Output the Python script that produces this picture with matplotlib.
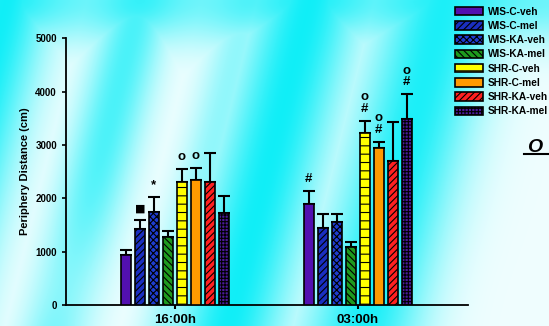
import numpy as np
import matplotlib.pyplot as plt

groups = ["16:00h", "03:00h"]
series = ["WIS-C-veh", "WIS-C-mel", "WIS-KA-veh", "WIS-KA-mel",
          "SHR-C-veh", "SHR-C-mel", "SHR-KA-veh", "SHR-KA-mel"]
means_16 = [940, 1420, 1740, 1270, 2310, 2350, 2300, 1720]
means_03 = [1900, 1440, 1560, 1080, 3230, 2950, 2700, 3480]
err_16 = [100, 180, 290, 110, 240, 220, 550, 330]
err_03 = [240, 270, 150, 95, 220, 110, 730, 470]
marks_16 = ["", "\u25a0", "*", "", "o", "o", "", ""]
marks_03 = ["#", "", "", "", "o\n#", "o\n#", "", "o\n#"]

colors = ["#5210b0", "#1a2fc0", "#1f3dd0", "#1e9a1e",
          "#ffff00", "#ff9a00", "#ff2020", "#4a1a9a"]
hatches = [None, "/////", "xxxxx", "\\\\\\\\\\", "--", None, "/////", "+++++"]

plt.rcParams["font.family"] = ["Liberation Sans", "DejaVu Sans"]
plt.rcParams["hatch.linewidth"] = 0.8
fig = plt.figure(figsize=(5.49, 3.26), dpi=100)

# soft cyan streaky background
bg = fig.add_axes([0, 0, 1, 1], zorder=-10)
xx, yy = np.meshgrid(np.linspace(0, 549, 549), np.linspace(0, 326, 326))
streaks = [(5, 50, 0.95), (140, 35, 0.7), (310, 55, 0.95), (445, 60, 0.9), (250, 30, 0.4)]
w = np.zeros_like(xx)
xs = xx + yy * 0.25
for cx, s, a in streaks:
    w = np.maximum(w, a * np.exp(-((xs - cx) / s) ** 2))
w = np.maximum(w, 0.9 * np.exp(-(yy / 45) ** 2) * (0.6 + 0.4 * w))
w = w * (1 - 0.7 * np.exp(-(((xx - 545) / 70) ** 2 + ((yy - 320) / 80) ** 2)))
w = w * (1 - 0.4 * np.exp(-(((xx - 80) / 60) ** 2 + ((yy - 300) / 90) ** 2)))
w = np.clip(0.06 + 0.92 * w, 0, 1)
img = np.ones(xx.shape + (3,))
img[..., 0] = 1 - w
img[..., 1] = 1 - 0.07 * w
img[..., 2] = 1 - 0.03 * w
bg.imshow(img, aspect="auto", extent=[0, 1, 0, 1], origin="upper")
bg.axis("off")

ax = fig.add_axes([0.120, 0.064, 0.732, 0.819])
ax.patch.set_alpha(0)
width = 0.055
step = 0.0765
x = np.arange(len(groups))
for i, name in enumerate(series):
    pos = x + (i - 3.5) * step
    vals = [means_16[i], means_03[i]]
    errs = [err_16[i], err_03[i]]
    ax.bar(pos, vals, width, color=colors[i], hatch=hatches[i], edgecolor="black",
           linewidth=1.2, label=name, zorder=3)
    ax.errorbar(pos, vals, yerr=[[0, 0], errs], fmt="none", ecolor="black",
                elinewidth=1.5, capsize=4, capthick=1.5, zorder=2)
    for p, v, e, m in zip(pos, vals, errs, [marks_16[i], marks_03[i]]):
        if m:
            fs = 8 if m == "\u25a0" else 9.5
            ax.text(p, v + e + 110, m, ha="center", va="bottom", fontsize=fs,
                    fontweight="bold", linespacing=0.95,
                    family=["DejaVu Sans"] if m == "\u25a0" else None)

ax.set_xlim(-0.596, 1.601)
ax.set_ylim(0, 5000)
ax.set_yticks([0, 1000, 2000, 3000, 4000, 5000])
ax.set_xticks(x)
ax.set_xticklabels(groups, fontsize=9.5, fontweight="bold")
ax.tick_params(axis="y", labelsize=7, width=1.2, length=3)
ax.tick_params(axis="x", width=1.5, length=3)
for t in ax.get_yticklabels():
    t.set_fontweight("bold")
ax.set_ylabel("Periphery Distance (cm)", fontsize=8, fontweight="bold")
ax.spines["top"].set_visible(False)
ax.spines["right"].set_visible(False)
ax.spines["left"].set_linewidth(1.3)
ax.spines["bottom"].set_linewidth(1.3)

fig.legend(loc="upper left", bbox_to_anchor=(0.816, 1.0), frameon=False,
           prop={"size": 7.3, "weight": "bold"},
           handlelength=2.8, handleheight=0.9,
           labelspacing=0.42, handletextpad=0.5, borderpad=0.15)

fig.text(0.960, 0.535, "O", fontsize=14, fontweight="bold", style="italic")
fig.add_artist(plt.Line2D([0.955, 1.0], [0.527, 0.527], color="black", lw=1.5))

fig.savefig("out.png", dpi=100)
